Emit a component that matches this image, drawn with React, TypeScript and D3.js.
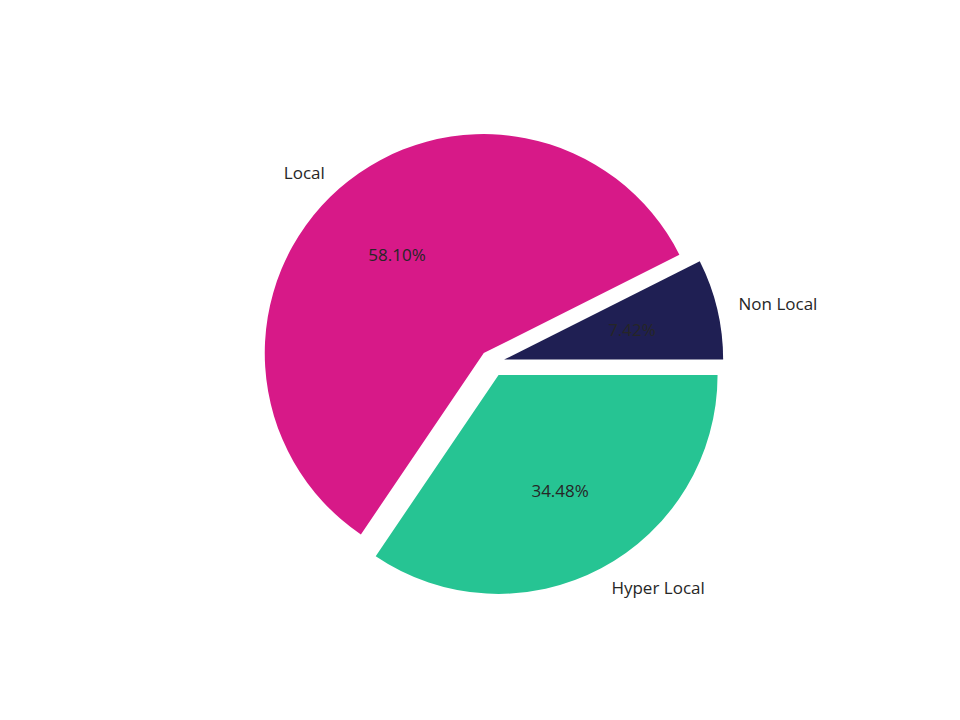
import React from 'react';
import * as d3 from 'd3';

// Chart data
const categories = ['Non Local', 'Local', 'Hyper Local'];
const shares = [7.42, 58.1, 34.48];
const colors = ['#1f1f53', '#d71988', '#26c493'];
const explode = [0.057, 0.057, 0.064];

const WIDTH = 960;
const HEIGHT = 720;
const CX = 492;
const CY = 362.5;
const RADIUS = 219;

interface Slice {
  label: string;
  value: number;
  color: string;
  explode: number;
}

const slices: Slice[] = categories.map((label, i) => ({
  label,
  value: shares[i],
  color: colors[i],
  explode: explode[i],
}));

export default function App() {
  // matplotlib style: start at 3 o'clock, go counter-clockwise
  const pie = d3.pie<Slice>()
    .value(d => d.value)
    .sort(null)
    .startAngle(Math.PI / 2)
    .endAngle(Math.PI / 2 - 2 * Math.PI);

  const arc = d3.arc<d3.PieArcDatum<Slice>>()
    .innerRadius(0)
    .outerRadius(RADIUS);

  const arcs = pie(slices);
  const total = d3.sum(shares);
  const fmt = (v: number) => `${((v / total) * 100).toFixed(2)}%`;

  return (
    <div style={{ position: 'absolute', left: 0, top: 0 }}>
      <svg width={WIDTH} height={HEIGHT} style={{ display: 'block', background: '#fff' }}>
        {arcs.map(a => {
          const mid = (a.startAngle + a.endAngle) / 2;
          const ux = Math.sin(mid);
          const uy = -Math.cos(mid);
          const ox = CX + ux * a.data.explode * RADIUS;
          const oy = CY + uy * a.data.explode * RADIUS;
          const lx = ox + ux * RADIUS * 1.1;
          const ly = oy + uy * RADIUS * 1.1;
          const px = ox + ux * RADIUS * 0.6;
          const py = oy + uy * RADIUS * 0.6;
          return (
            <g key={a.data.label}>
              <path d={arc(a) as string} transform={`translate(${ox},${oy})`} fill={a.data.color} />
              <text
                x={lx}
                y={ly}
                textAnchor={ux > 0 ? 'start' : 'end'}
                dominantBaseline="central"
                fontFamily="'Open Sans', sans-serif"
                fontSize={17}
                fill="#262626"
              >
                {a.data.label}
              </text>
              <text
                x={px}
                y={py}
                textAnchor="middle"
                dominantBaseline="central"
                fontFamily="'Open Sans', sans-serif"
                fontSize={17}
                fill="#262626"
              >
                {fmt(a.data.value)}
              </text>
            </g>
          );
        })}
      </svg>
    </div>
  );
}
